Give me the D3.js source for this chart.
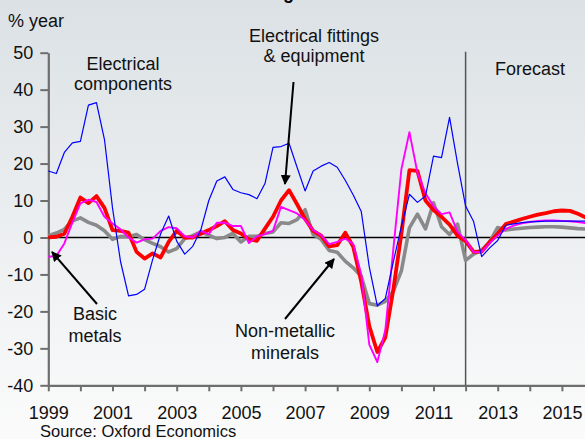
<!DOCTYPE html>
<html>
<head>
<meta charset="utf-8">
<script src="https://cdn.jsdelivr.net/npm/d3@7"></script>
<style>
  body { margin: 0; }
  svg { display: block; font-family: "Liberation Sans", Arial, sans-serif; }
</style>
</head>
<body>
<div id="chart"></div>
<script>
// quarterly growth, % year, 1999 Q1 .. 2016 Q1
var startYear = 1999;
var electricalComponents = [
  18, 17.3, 23, 25.6,
  26, 35.8, 36.5, 26.5,
  8, -6.5, -15.8, -15.4,
  -14, -6, 1, 5.8,
  -1, -4.5, -2.4, 2,
  10, 15.3, 16.4, 13,
  12.1, 11.6, 10.5, 14.6,
  24.4, 24.6, 25.5, 19,
  12.6, 18, 19.3, 20.3,
  19, 15.5, 11.5, 7,
  -8, -18.5, -16.5, -6.5,
  3, 11.7, 9.5, 11.2,
  22, 21.6, 32.5, 20,
  8.5, 4.3, -5.2, -2.8,
  -0.8, 3.3, 3.7, 4.0,
  4.2, 4.3, 4.4, 4.4,
  4.4, 4.4, 4.4, 4.4,
  4.4
];
var electricalFittings = [
  0, 0.2, 1, 5.6,
  10.8, 9.3, 11.2, 8,
  2, 1.8, 1.3, -3.9,
  -5.7, -4.3, -5.4, -1.2,
  1.8, 0, 0, 1,
  2, 3.1, 4.4, 2,
  1.1, -0.5, -0.9, 2.4,
  5.6, 10, 12.8, 9,
  5, 1.8, 0.5, -2.4,
  -2.1, 1.3, -2.5, -12,
  -24, -31, -27, -14,
  1, 18.2, 18, 10,
  7.4, 5.6, 3.5, 0.5,
  -1, -3.9, -3.8, -1.2,
  1, 3.6, 4.3, 5,
  5.6, 6.2, 6.6, 7.1,
  7.3, 7.2, 6.4, 5.4,
  4.8
];
var basicMetals = [
  -5.2, -5, -1.6, 4,
  9.2, 10.2, 9.6, 5.6,
  3.8, 2.2, 0, -1.4,
  -0.5, -0.3, 1.8, 2.8,
  2.5, 0.3, 0, 1.8,
  0.9, 4, 4, 3.1,
  3.1, -1.5, 0.3, 0.9,
  1.8, 8.3, 7.4, 6.5,
  4.7, 2, 0.6, -1.8,
  -1.2, -0.3, -1.8, -10,
  -29, -33.7, -25, -3,
  18.5, 28.5, 17.5, 12,
  8.5, 6.3, 6.8, 1.5,
  -0.7, -4, -3.9, -1.5,
  0.5, 2.3, 3.2, 3.8,
  4.2, 4.5, 4.6, 4.6,
  4.5, 4.4, 4.2, 3.9,
  3.7
];
var nonMetallicMinerals = [
  0.5, 1.2, 2.2, 4.5,
  5.3, 4.1, 3.3, 1.8,
  -0.5, 0.3, 0.2, 0.8,
  -0.6, -1.6, -2.5, -3.9,
  -3, -0.3, 0.5, 1.5,
  0.6, -0.3, 0, 1.1,
  -1.2, 0.3, 0.3, 1.1,
  1.5, 4, 3.8, 4.8,
  7.5, 0.8, -0.5, -3.5,
  -4, -6.4, -8.2, -10.5,
  -17.9, -18.3, -17.3, -14.5,
  -9, 2.6, 6.3, 2.3,
  9.4, 2.9, 0.8, 3.6,
  -6.2, -4.5, -3.4, -1.2,
  2.7, 2, 2.3, 2.5,
  2.7, 2.8, 2.9, 2.9,
  2.8, 2.6, 2.4, 2.3,
  2.2
];
var yTicks = [-40, -30, -20, -10, 0, 10, 20, 30, 40, 50];
var xTicks = [1999, 2000, 2001, 2002, 2003, 2004, 2005, 2006, 2007, 2008,
              2009, 2010, 2011, 2012, 2013, 2014, 2015];
var xLabels = [1999, 2001, 2003, 2005, 2007, 2009, 2011, 2013, 2015];
var forecastStart = 2012;

var W = 585, H = 439;

var svg = d3.select("#chart")
  .append("svg")
    .attr("width", W)
    .attr("height", H);

// background gradient
var defs = svg.append("defs");
var grad = defs.append("linearGradient")
  .attr("id", "bg")
  .attr("x1", 0).attr("y1", 0).attr("x2", 0).attr("y2", 1);
grad.append("stop").attr("offset", "0%").attr("stop-color", "#dbe1e5");
grad.append("stop").attr("offset", "100%").attr("stop-color", "#fbfbfb");
defs.append("marker")
  .attr("id", "arrow")
  .attr("viewBox", "0 0 10 10")
  .attr("refX", 9).attr("refY", 5)
  .attr("markerWidth", 5).attr("markerHeight", 5)
  .attr("orient", "auto")
  .append("path")
    .attr("d", "M0,0 L10,5 L0,10 Z")
    .attr("fill", "black");

svg.append("rect")
  .attr("width", W).attr("height", H)
  .attr("fill", "url(#bg)");

var x = d3.scaleLinear()
  .domain([1999, 2016])
  .range([48.3, 594]);

var y = d3.scaleLinear()
  .domain([-40, 50])
  .range([385.3, 52.7]);

// title (cut off at the top of the frame, as in the source image)
svg.append("text")
  .attr("x", 294).attr("y", -1)
  .attr("text-anchor", "end")
  .attr("font-size", 18).attr("font-weight", "bold")
  .text("Manufacturing");

// axes
var yAxis = svg.append("g")
  .attr("transform", "translate(" + x(1999) + ",0)")
  .call(d3.axisLeft(y).tickValues(yTicks).tickSize(8).tickSizeOuter(0).tickPadding(7)
    .tickFormat(function(d) { return String(d); }));

var xAxis = svg.append("g")
  .attr("transform", "translate(0," + y(-40) + ")")
  .call(d3.axisBottom(x).tickValues(xTicks).tickSize(6).tickSizeOuter(0).tickPadding(15)
    .tickFormat(function(d) { return xLabels.indexOf(d) >= 0 ? String(d) : ""; }));

[yAxis, xAxis].forEach(function(g) {
  g.select(".domain").attr("stroke", "#6e6e6e").attr("stroke-width", 2.2);
  g.selectAll(".tick line").attr("stroke", "#6e6e6e").attr("stroke-width", 2);
  g.selectAll(".tick text")
    .attr("font-size", 18)
    .attr("fill", "#111")
    .attr("font-family", "'Liberation Sans', Arial, sans-serif");
});

// zero line
svg.append("line")
  .attr("x1", x(1999)).attr("x2", W)
  .attr("y1", y(0)).attr("y2", y(0))
  .attr("stroke", "black").attr("stroke-width", 1.6);

// forecast divider
svg.append("line")
  .attr("x1", x(forecastStart)).attr("x2", x(forecastStart))
  .attr("y1", y(50) - 1).attr("y2", y(-40))
  .attr("stroke", "#555").attr("stroke-width", 1.5);

var line = d3.line()
  .x(function(d, i) { return x(startYear + i / 4); })
  .y(function(d) { return y(d); });

var series = [
  {values: nonMetallicMinerals, color: "#8a8a8a", width: 3.6},
  {values: electricalFittings, color: "#ff0000", width: 3.8},
  {values: basicMetals, color: "#ff00ff", width: 1.9},
  {values: electricalComponents, color: "#0000ff", width: 1.2}
];

svg.append("g")
  .selectAll("path")
  .data(series)
  .enter()
  .append("path")
    .attr("d", function(d) { return line(d.values); })
    .attr("fill", "none")
    .attr("stroke", function(d) { return d.color; })
    .attr("stroke-width", function(d) { return d.width; })
    .attr("stroke-linejoin", "round");

// labels
function label(lines, cx, y0, dy) {
  var t = svg.append("text")
    .attr("text-anchor", "middle")
    .attr("font-size", 18)
    .attr("fill", "#111");
  lines.forEach(function(s, i) {
    t.append("tspan").attr("x", cx).attr("y", y0 + i * dy).text(s);
  });
}
label(["Electrical", "components"], 123, 70, 20);
label(["Electrical fittings", "& equipment"], 314, 42, 20);
label(["Basic", "metals"], 95, 320, 22);
label(["Non-metallic", "minerals"], 285, 337, 22);
label(["Forecast"], 530, 75, 0);

svg.append("text")
  .attr("x", 8).attr("y", 27)
  .attr("font-size", 18).attr("fill", "#111")
  .text("% year");

svg.append("text")
  .attr("x", 40).attr("y", 437)
  .attr("font-size", 16.5).attr("fill", "#111")
  .text("Source: Oxford Economics");

// arrows
var arrows = [
  [293.5, 82, 285, 184],
  [97, 304, 52, 252],
  [285, 319, 334, 259]
];
svg.selectAll(".arrow")
  .data(arrows)
  .enter()
  .append("line")
    .attr("class", "arrow")
    .attr("x1", function(d) { return d[0]; })
    .attr("y1", function(d) { return d[1]; })
    .attr("x2", function(d) { return d[2]; })
    .attr("y2", function(d) { return d[3]; })
    .attr("stroke", "black")
    .attr("stroke-width", 2)
    .attr("marker-end", "url(#arrow)");
</script>
</body>
</html>
